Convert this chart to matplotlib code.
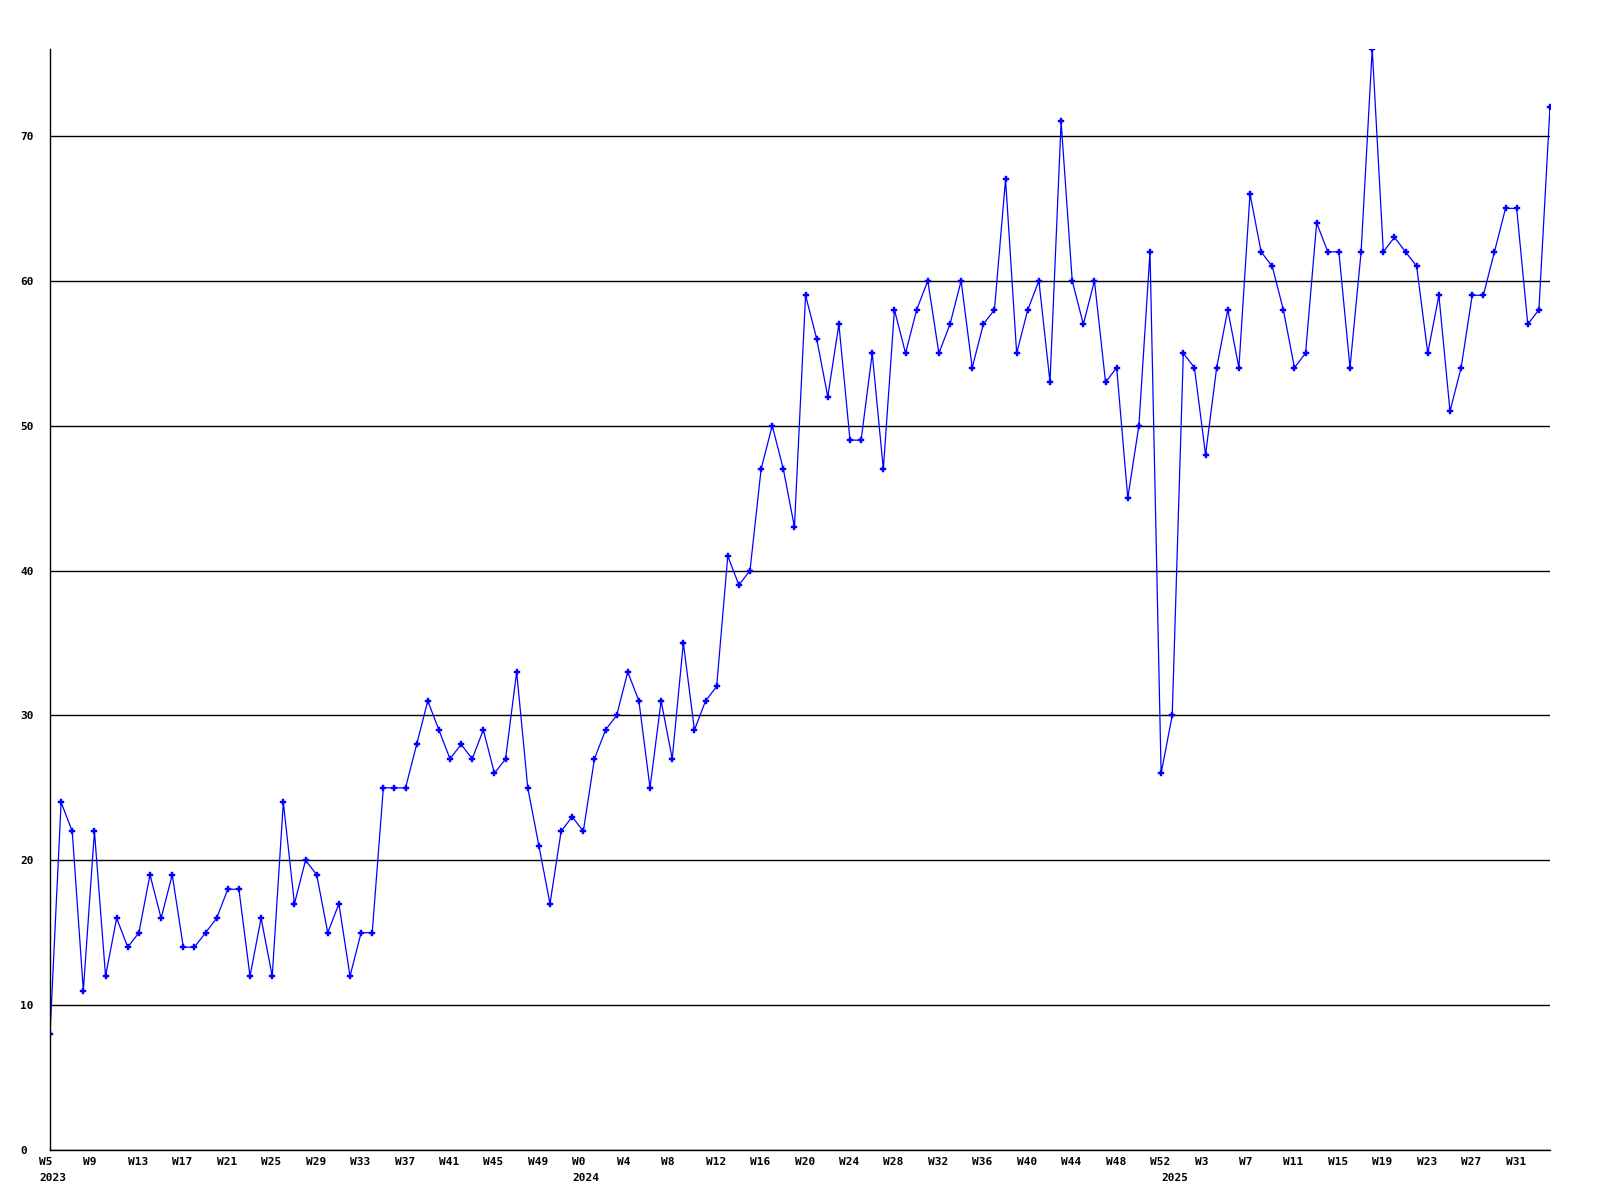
__doc__ = "weekly count line chart, W5 2023 to W34 2025"

#required imports
import numpy as np
import matplotlib
matplotlib.use("Agg")
import matplotlib.pyplot as plt
from matplotlib.transforms import ScaledTranslation, blended_transform_factory

#===============================================
# data
#===============================================
years = [2023, 2024, 2025]
first_week = [5, 0, 0]

counts_2023 = [8, 24, 22, 11, 22, 12, 16, 14, 15, 19,
               16, 19, 14, 14, 15, 16, 18, 18, 12, 16,
               12, 24, 17, 20, 19, 15, 17, 12, 15, 15,
               25, 25, 25, 28, 31, 29, 27, 28, 27, 29,
               26, 27, 33, 25, 21, 17, 22, 23]

counts_2024 = [22, 27, 29, 30, 33, 31, 25, 31, 27, 35,
               29, 31, 32, 41, 39, 40, 47, 50, 47, 43,
               59, 56, 52, 57, 49, 49, 55, 47, 58, 55,
               58, 60, 55, 57, 60, 54, 57, 58, 67, 55,
               58, 60, 53, 71, 60, 57, 60, 53, 54, 45,
               50, 62, 26]

counts_2025 = [30, 55, 54, 48, 54, 58, 54, 66, 62, 61,
               58, 54, 55, 64, 62, 62, 54, 62, 76, 62,
               63, 62, 61, 55, 59, 51, 54, 59, 59, 62,
               65, 65, 57, 58, 72]

y_ticks = [0, 10, 20, 30, 40, 50, 60, 70]
label_every = 4

#===============================================
# build the series and the week labels
#===============================================
segments = [counts_2023, counts_2024, counts_2025]
values = []
week_labels = []
year_start = []
for year, w0, seg in zip(years, first_week, segments):
  year_start.append(len(values))
  values += seg
  week_labels += ["W%d" % (w0 + k) for k in range(len(seg))]

x = np.arange(len(values))

font = dict(family="DejaVu Sans Mono", weight="bold", size=8)

#define figure
fig = plt.figure(figsize=(16, 12), dpi=100)
ax = fig.add_axes([50 / 1600, 50 / 1200, 1500 / 1600, 1101 / 1200])

#the line with small markers
ax.plot(x, values, color="#0000ff", lw=0.9, marker="P", ms=4.5,
        mew=0.3, mec="#0000ff", mfc="#0000ff")

ax.set_xlim(0, len(values) - 1)
ax.set_ylim(0, max(values))

#horizontal grid
ax.set_yticks(y_ticks)
ax.yaxis.grid(True, color="black", lw=1)
ax.set_axisbelow(True)

#spines
for side in ["top", "right"]:
  ax.spines[side].set_visible(False)
for side in ["left", "bottom"]:
  ax.spines[side].set_color("black")
  ax.spines[side].set_linewidth(1)

ax.tick_params(length=0)
ax.tick_params(axis="y", pad=30 * 72 / 100)
for lbl in ax.get_yticklabels():
  lbl.set_ha("left")
  lbl.set_fontfamily(font["family"])
  lbl.set_fontweight(font["weight"])
  lbl.set_fontsize(font["size"])

#week labels, every 4th week
shift = ScaledTranslation(-11 / 100, 0, fig.dpi_scale_trans)
ax.set_xticks(x[::label_every], week_labels[::label_every], **font)
ax.tick_params(axis="x", pad=5)
for lbl in ax.get_xticklabels():
  lbl.set_ha("left")
  lbl.set_transform(lbl.get_transform() + shift)

#year labels under the first week of each year
trans = blended_transform_factory(ax.transData, ax.transAxes) + \
  ScaledTranslation(-11 / 100, -23 / 100, fig.dpi_scale_trans)
for year, idx in zip(years, year_start):
  ax.text(idx, 0, str(year), transform=trans, ha="left", va="top", **font)

#export
fig.savefig("out.png", dpi=100)
